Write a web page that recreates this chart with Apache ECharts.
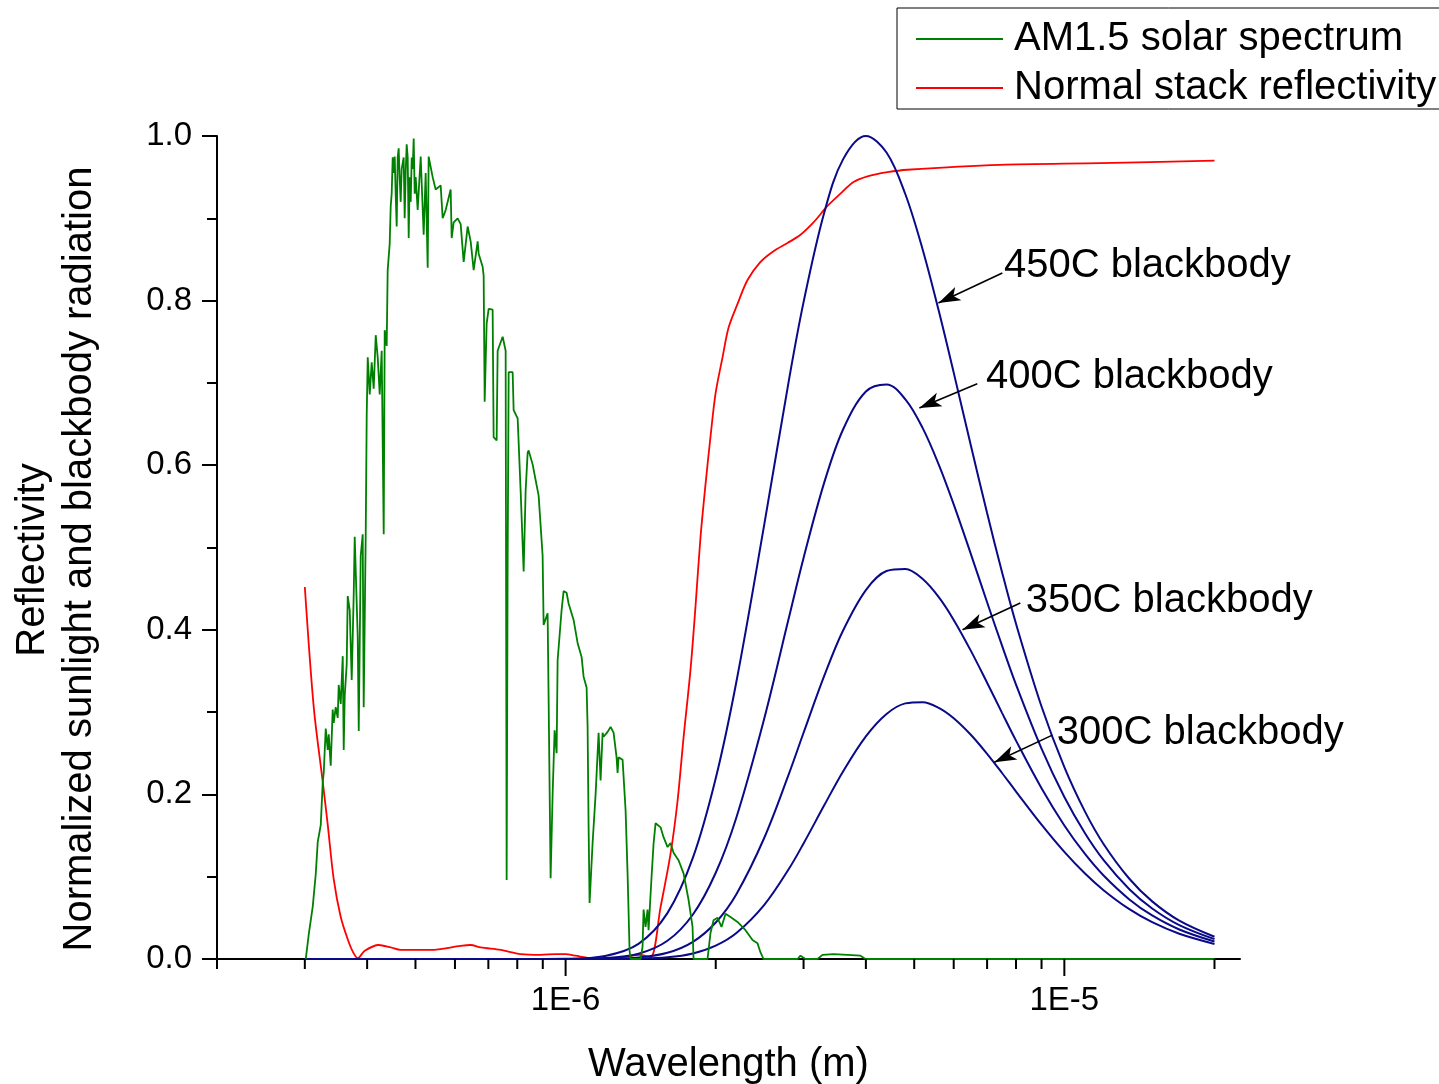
<!DOCTYPE html>
<html><head><meta charset="utf-8">
<script src="https://cdn.jsdelivr.net/npm/echarts@6/dist/echarts.min.js"></script>
<style>html,body{margin:0;padding:0;background:#fff}#c{width:1439px;height:1084px}</style>
</head><body><div id="c"></div><script>
const FONT = '"Liberation Sans", Arial, Helvetica, sans-serif';

// ---- blackbody curves (wavelength in micrometres, normalised radiance) ----
const bbWavelengthUm = [0.3,0.8,1.0,1.2,1.4,1.6,1.8,2.0,2.2,2.5,2.8,3.0,3.3,3.6,4.0,4.4,4.8,5.2,5.6,6.0,6.5,7.0,7.5,8.0,9,10,11,12,13.5,15,17,20];
const bb450 = [0,0,0.0003,0.0037,0.0184,0.0557,0.1231,0.2196,0.3369,0.5265,0.7013,0.7981,0.9067,0.9716,1.0000,0.9800,0.9292,0.8619,0.7876,0.7125,0.6231,0.5418,0.4700,0.4073,0.3068,0.2331,0.1791,0.1392,0.0975,0.0700,0.0466,0.0270];
const bb400 = [0,0,0.0001,0.0011,0.0064,0.0221,0.0541,0.1048,0.1720,0.2914,0.4134,0.4873,0.5788,0.6434,0.6895,0.6981,0.6800,0.6450,0.6007,0.5524,0.4914,0.4335,0.3807,0.3334,0.2556,0.1968,0.1528,0.1198,0.0848,0.0614,0.0412,0.0241];
const bb350 = [0,0,0,0.0003,0.0019,0.0076,0.0209,0.0444,0.0788,0.1467,0.2240,0.2749,0.3439,0.3991,0.4483,0.4714,0.4739,0.4616,0.4396,0.4120,0.3741,0.3357,0.2991,0.2653,0.2075,0.1623,0.1276,0.1011,0.0724,0.0529,0.0359,0.0212];
const bb300 = [0,0,0,0,0.0004,0.0021,0.0068,0.0162,0.0315,0.0655,0.1090,0.1404,0.1867,0.2279,0.2705,0.2977,0.3106,0.3121,0.3052,0.2926,0.2722,0.2493,0.2260,0.2035,0.1632,0.1301,0.1038,0.0833,0.0605,0.0447,0.0307,0.0183];

// ---- AM1.5 solar spectrum (normalised) ----
const solarWavelengthUm = [
0.3013,0.3055,0.3112,0.3155,0.3184,0.3229,0.3259,0.3274,0.3304,0.3335,0.3350,0.3381,0.3412,0.3428,0.3460,0.3492,0.3508,0.3541,0.3574,0.3590,
0.3607,0.3640,0.3657,0.3691,0.3725,0.3760,0.3777,0.3830,0.3848,0.3883,0.3919,0.3937,0.3974,0.3992,0.4011,0.4048,0.4085,0.4123,0.4162,0.4200,
0.4239,0.4278,0.4318,0.4338,0.4378,0.4398,0.4439,0.4460,0.4480,0.4501,0.4522,0.4543,0.4564,0.4585,0.4606,0.4627,0.4649,0.4670,0.4692,0.4714,
0.4735,0.4757,0.4779,0.4801,0.4824,0.4846,0.4869,0.4891,0.4914,0.4936,0.4959,0.4982,
0.5005,0.5051,0.5122,0.5193,0.5241,0.5290,0.5314,0.5413,0.5489,0.5617,0.5669,0.5748,0.5882,0.5910,0.5964,0.6075,0.6160,0.6246,0.6362,0.6451,
0.6541,0.6663,0.6694,0.6818,0.6850,0.6882,0.6945,0.7010,0.7140,0.7173,0.7273,0.7307,0.7478,0.7582,0.7617,0.7652,0.7688,0.7831,0.7867,0.8014,
0.8125,0.8239,0.8315,0.8392,0.8431,0.8588,0.8707,0.8829,0.8993,0.9035,0.9203,0.9246,0.9331,0.9418,0.9505,0.9593,0.9638,0.9817,0.9908,1.0046,
1.0139,1.0376,1.0569,1.0766,1.0866,1.1018,1.1069,1.1120,1.1171,1.1327,1.1485,1.1645,1.1753,1.1862,1.1917,1.2139,1.2308,1.2479,1.2653,1.2712,
1.2771,1.3009,1.3190,1.3312,1.3436,1.3498,1.4135,1.4266,1.4332,1.4465,1.4599,1.4667,1.4871,1.5009,1.5149,1.5502,1.5718,1.6011,1.6234,1.6460,
1.6845,1.7238,1.7640,1.7969,1.8052,1.9256,1.9525,1.9797,2.0166,2.0541,2.0924,2.1412,2.2115,2.2947,2.3700,2.4253,2.4591,2.4934,2.9170,2.9577,
3.0267,3.1990,3.2737,3.4442,3.6740,3.9010,3.9922,20];
const solarValue = [
0,0.03,0.064,0.103,0.142,0.163,0.215,0.227,0.28,0.254,0.273,0.235,0.303,0.287,0.306,0.293,0.333,0.31,0.368,0.254,
0.32,0.358,0.441,0.424,0.339,0.444,0.513,0.391,0.277,0.49,0.516,0.306,0.516,0.66,0.731,0.686,0.725,0.693,0.758,0.731,
0.686,0.739,0.516,0.764,0.745,0.837,0.869,0.915,0.93,0.974,0.955,0.975,0.928,0.89,0.974,0.985,0.948,0.92,0.96,0.967,
0.974,0.90,0.955,0.99,0.974,0.876,0.95,0.92,0.974,0.96,0.997,0.93,
0.95,0.91,0.975,0.88,0.955,0.84,0.975,0.95,0.935,0.94,0.90,0.91,0.935,0.876,0.895,0.90,0.893,0.847,0.89,0.872,
0.837,0.872,0.857,0.841,0.83,0.677,0.772,0.79,0.789,0.634,0.63,0.739,0.756,0.739,0.096,0.48,0.713,0.713,0.667,0.657,
0.569,0.471,0.569,0.615,0.618,0.601,0.582,0.563,0.49,0.406,0.42,0.315,0.098,0.2,0.278,0.25,0.363,0.424,0.447,0.445,
0.432,0.412,0.384,0.367,0.343,0.33,0.282,0.16,0.068,0.141,0.2,0.275,0.217,0.275,0.27,0.276,0.282,0.275,0.245,0.226,
0.245,0.242,0.181,0.104,0.01,0,0,0.015,0.06,0.039,0.06,0.035,0.1,0.14,0.165,0.16,0.148,0.136,0.141,0.129,
0.12,0.104,0.072,0.039,0,0,0.032,0.047,0.05,0.039,0.055,0.051,0.045,0.035,0.023,0.019,0.008,0,0,0.004,
0,0,0.005,0.006,0.005,0.004,0,0];

// ---- normal stack reflectivity ----
const reflWavelengthUm = [0.300,0.3126,0.3259,0.3335,0.3428,0.3541,0.3657,0.3750,0.3830,0.3956,0.4220,0.4460,0.4670,0.5364,0.6160,0.6451,0.6756,0.7409,0.8125,0.8910,
0.9549,1.0000,1.0472,1.1223,1.1753,1.2889,1.4135,1.4803,1.5502,1.6234,1.6767,1.7238,1.7803,1.8219,1.8644,1.9079,1.9525,1.9980,2.0636,2.1216,
2.2115,2.3160,2.4591,2.6111,2.7854,2.9577,3.1405,3.3499,3.5574,3.7773,4.0292,4.4188,4.8461,7.4427,11.808,20];
const reflValue = [0.452,0.306,0.215,0.163,0.097,0.051,0.024,0.008,0.001,0.010,0.017,0.014,0.011,0.011,0.016,0.017,0.014,0.011,0.006,0.005,
0.006,0.006,0.004,0.001,0.0,0.002,0.005,0.002,0.063,0.128,0.192,0.269,0.352,0.429,0.513,0.577,0.635,0.687,0.731,0.767,
0.796,0.825,0.847,0.860,0.870,0.880,0.895,0.915,0.930,0.944,0.951,0.956,0.959,0.965,0.967,0.970];

// ---- axis ticks / labels ----
const xMinorTicks = [2e-7,3e-7,4e-7,5e-7,6e-7,7e-7,8e-7,9e-7,2e-6,3e-6,4e-6,5e-6,6e-6,7e-6,8e-6,9e-6,2e-5];
const xMajorTicks = [1e-6,1e-5];
const xTickLabels = ['1E-6','1E-5'];
const legendNames = ['AM1.5 solar spectrum','Normal stack reflectivity'];

const UM = 1e-6;
const pairs = (xs, ys) => xs.map((x, i) => [x * UM, ys[i]]);

function xLabel(v) {
  for (let i = 0; i < xMajorTicks.length; i++) {
    if (Math.abs(Math.log10(v) - Math.log10(xMajorTicks[i])) < 1e-6) return xTickLabels[i];
  }
  return '';
}

function tickSeries(ticks, len) {
  return {
    type: 'custom', silent: true, clip: false, z: 6,
    data: ticks.map(t => [t, 0]),
    renderItem: (params, api) => {
      const p = api.coord([api.value(0), 0]);
      return {type: 'line', shape: {x1: p[0], y1: p[1], x2: p[0], y2: p[1] + len},
              style: {stroke: '#000', lineWidth: 2}};
    }
  };
}

function blackbody(name, values, arrow, labelAt) {
  return {
    name, type: 'line', data: pairs(bbWavelengthUm, values),
    smooth: 0.35, symbol: 'none', showSymbol: false, z: 3,
    lineStyle: {color: '#0a0a88', width: 2}, itemStyle: {color: '#0a0a88'},
    markLine: {
      silent: true, symbol: ['none', 'arrow'], symbolSize: 18, animation: false,
      lineStyle: {color: '#000', width: 1.6, type: 'solid'}, label: {show: false},
      itemStyle: {color: '#000'},
      data: [[{coord: [arrow[0] * UM, arrow[1]], symbol: 'none'},
              {coord: [arrow[2] * UM, arrow[3]], symbol: 'arrow', symbolSize: [11, 22]}]]
    },
    markPoint: {
      silent: true, symbol: 'circle', symbolSize: 1, animation: false,
      itemStyle: {color: 'rgba(0,0,0,0)'},
      label: {show: true, position: 'right', distance: 0, formatter: name,
              fontSize: 40, fontFamily: FONT, color: '#000'},
      data: [{coord: [labelAt[0] * UM, labelAt[1]]}]
    }
  };
}

const chart = echarts.init(document.getElementById('c'));
chart.setOption({
  animation: false,
  backgroundColor: '#fff',
  textStyle: {fontFamily: FONT},
  grid: {left: 217, right: 199, top: 136, bottom: 125, containLabel: false, outerBoundsMode: 'none'},
  legend: {
    data: legendNames, orient: 'vertical', left: 897, top: 8,
    icon: 'rect', itemWidth: 87, itemHeight: 2, itemGap: 9,
    padding: [11, 14, 1, 19],
    borderColor: '#000', borderWidth: 1, borderRadius: 0,
    backgroundColor: '#fff',
    textStyle: {fontSize: 40, color: '#000', fontFamily: FONT, padding: [0, 0, 0, 6]}
  },
  xAxis: {
    type: 'log', logBase: 10, min: 2e-7, max: 2.25e-5,
    axisLine: {show: true, onZero: false, lineStyle: {color: '#000', width: 2}},
    axisTick: {show: false}, minorTick: {show: false},
    splitLine: {show: false}, minorSplitLine: {show: false},
    axisLabel: {formatter: xLabel, fontSize: 33, color: '#000', fontFamily: FONT, margin: 25,
                showMinLabel: true, showMaxLabel: true},
    name: 'Wavelength (m)', nameLocation: 'middle', nameGap: 86, nameMoveOverlap: false,
    nameTextStyle: {fontSize: 40, color: '#000', fontFamily: FONT}
  },
  yAxis: {
    type: 'value', min: 0, max: 1, interval: 0.2,
    axisLine: {show: true, lineStyle: {color: '#000', width: 2}},
    axisTick: {show: true, inside: false, length: 15, lineStyle: {color: '#000', width: 2}},
    minorTick: {show: true, splitNumber: 2, length: 10, lineStyle: {color: '#000', width: 2}},
    splitLine: {show: false}, minorSplitLine: {show: false},
    axisLabel: {formatter: v => v.toFixed(1), fontSize: 33, color: '#000', fontFamily: FONT, margin: 25}
  },
  graphic: [
    {type: 'text', x: 33, y: 560, rotation: Math.PI / 2,
     style: {text: 'Reflectivity', fontSize: 40, fontFamily: FONT, fill: '#000', align: 'center', verticalAlign: 'middle'}},
    {type: 'text', x: 80, y: 559, rotation: Math.PI / 2,
     style: {text: 'Normalized sunlight and blackbody radiation', fontSize: 40, fontFamily: FONT, fill: '#000', align: 'center', verticalAlign: 'middle'}}
  ],
  series: [
    {name: legendNames[0], type: 'line', data: pairs(solarWavelengthUm, solarValue),
     symbol: 'none', showSymbol: false, z: 4,
     lineStyle: {color: '#008000', width: 1.8}, itemStyle: {color: '#008000'}},
    {name: legendNames[1], type: 'line', data: pairs(reflWavelengthUm, reflValue),
     smooth: 0.3, symbol: 'none', showSymbol: false, z: 3,
     lineStyle: {color: '#ff0000', width: 1.8}, itemStyle: {color: '#ff0000'}},
    blackbody('450C blackbody', bb450, [7.51, 0.8335, 5.59, 0.797], [7.547, 0.8421]),
    blackbody('400C blackbody', bb400, [6.69, 0.699, 5.12, 0.6695], [6.946, 0.7072]),
    blackbody('350C blackbody', bb350, [8.16, 0.4326, 6.25, 0.400], [8.353, 0.4350]),
    blackbody('300C blackbody', bb300, [9.46, 0.272, 7.24, 0.239], [9.638, 0.2746]),
    tickSeries(xMinorTicks, 10),
    tickSeries(xMajorTicks, 17)
  ]
});
</script></body></html>
